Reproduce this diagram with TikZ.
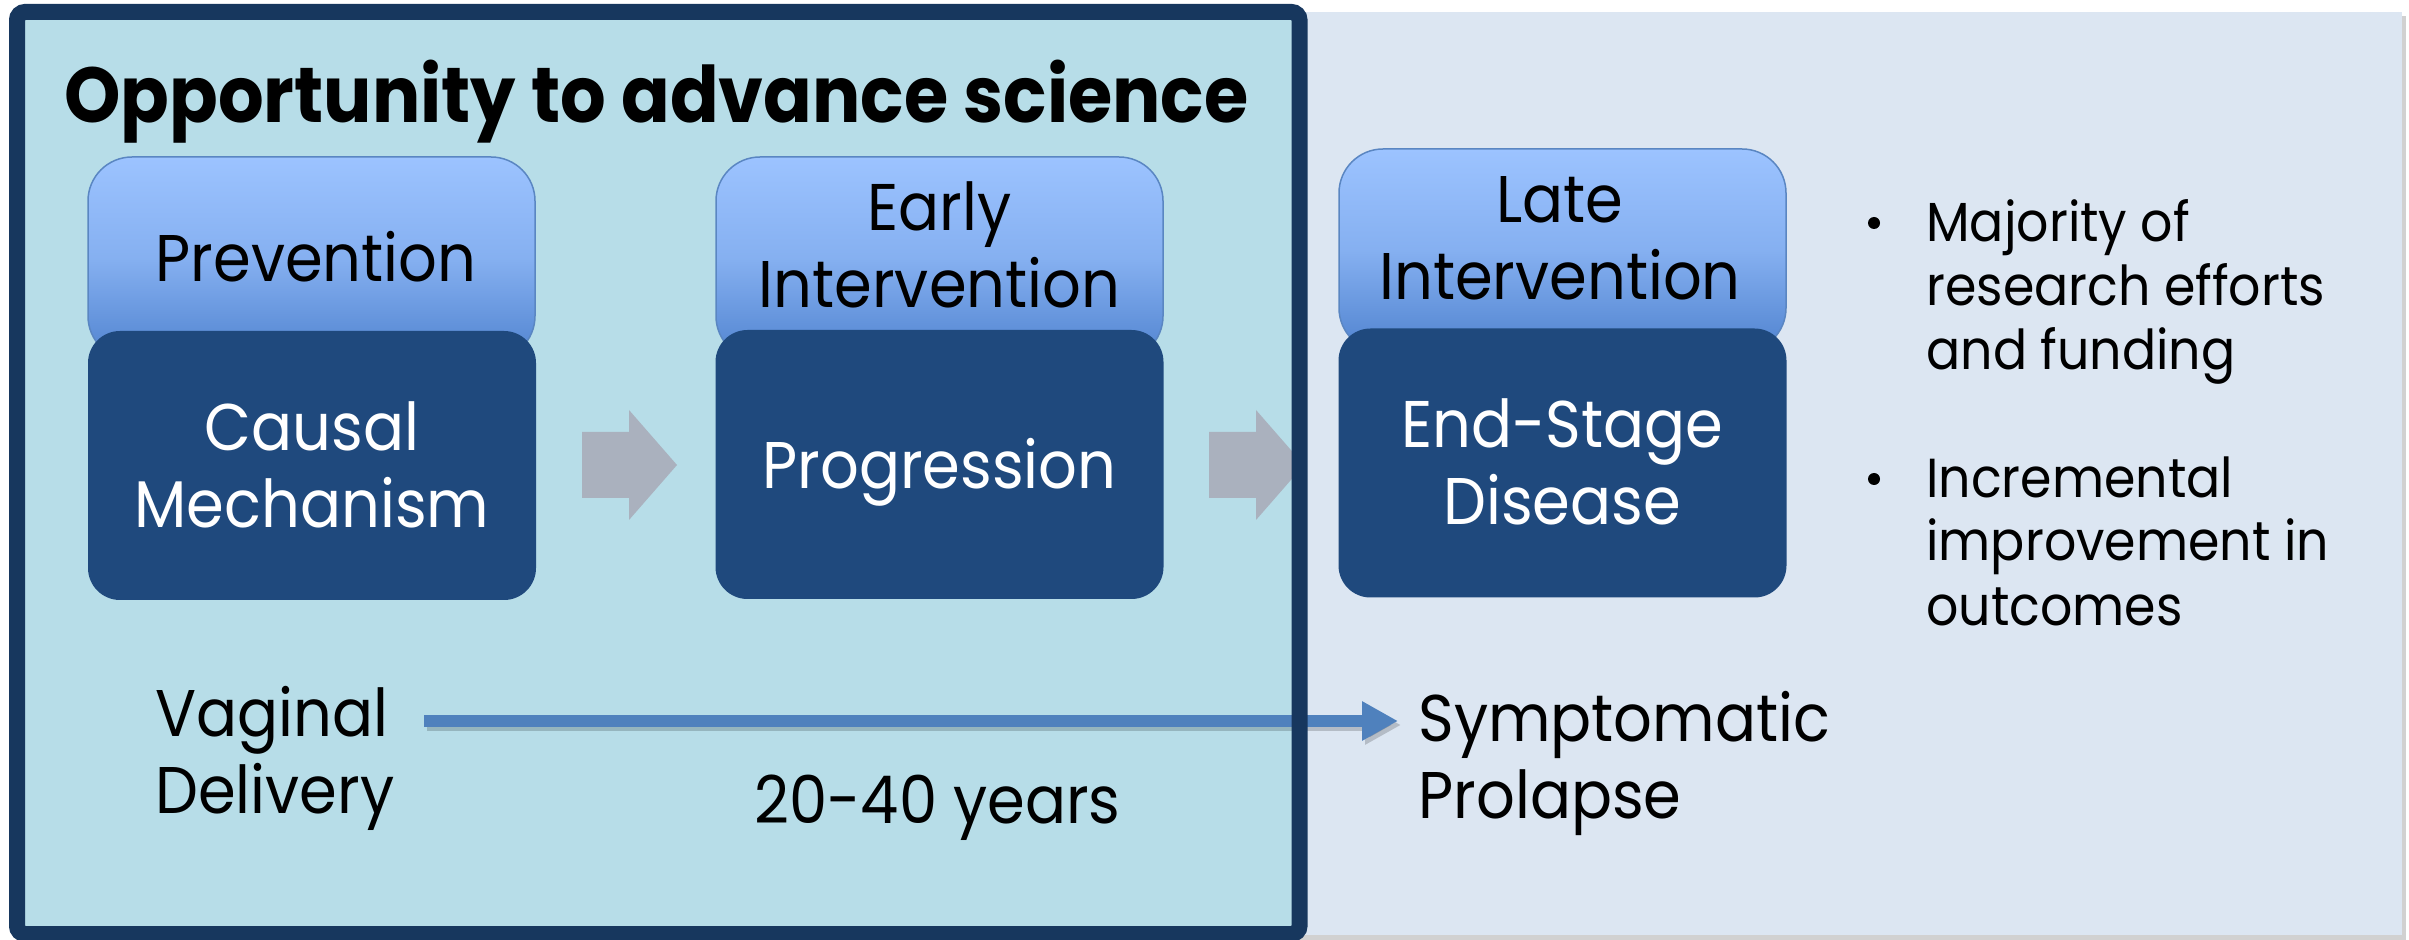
\documentclass[tikz,border=0pt]{standalone}
\usepackage{fontspec}
\setmainfont{Poppins}[FakeStretch=0.92]
\usetikzlibrary{arrows.meta}
\definecolor{frameC}{HTML}{17375E}
\definecolor{tealC}{HTML}{B7DDE8}
\definecolor{paleC}{HTML}{DCE6F2}
\definecolor{darkC}{HTML}{1F497D}
\definecolor{topA}{HTML}{9CC3FF}
\definecolor{topB}{HTML}{5083CF}
\definecolor{topE}{HTML}{5A86C2}
\definecolor{grayA}{HTML}{AAB1BE}
\definecolor{blueA}{HTML}{4F81BD}
\tikzset{
  topbox/.style={rounded corners=22pt, draw=topE, line width=0.75pt, top color=topA, bottom color=topB, middle color=topA!70!topB, minimum width=223.5pt, minimum height=101.5pt, inner sep=0pt},
  darkbox/.style={rounded corners=16pt, fill=darkC, minimum width=224pt, minimum height=134.5pt, inner sep=0pt},
  bigtxt/.style={font=\fontsize{33}{38.5}\selectfont, align=center, anchor=base, inner sep=0pt},
  whitetxt/.style={bigtxt, text=white},
  lefttxt/.style={font=\fontsize{33}{38.5}\selectfont, align=left, anchor=base west, inner sep=0pt},
  bultxt/.style={font=\fontsize{27.5}{32}\selectfont, align=left, anchor=base west, inner sep=0pt},
  bulletdot/.style={circle, fill=black, minimum size=6pt, inner sep=0pt},
  grayarrow/.style={fill=grayA},
  timeline/.style={draw=blueA, line width=6pt, -{Triangle[length=18pt,width=18.5pt]}}
}
\begin{document}
\begin{tikzpicture}[x=0.5pt,y=-0.5pt]
\useasboundingbox (0,0) rectangle (2409,940);
% background panels
\fill[black!30, opacity=0.6] (16,16) rectangle (2406,940);
\fill[paleC] (12,12) rectangle (2402,935);
\fill[tealC] (17,12) rectangle (1299.5,934);
% title
\node[font=\fontsize{39}{46}\selectfont\bfseries, anchor=base west, inner sep=0pt] (title) at (64,123) {Opportunity to advance science};
% boxes
\node[topbox] (t1) at (311.5,258.5) {};
\node[darkbox] (d1) at (312,465.5) {};
\node[topbox] (t2) at (939.5,258.5) {};
\node[darkbox] (d2) at (939.5,464.5) {};
\node[topbox] (t3) at (1562.5,250.5) {};
\node[darkbox] (d3) at (1562.5,463) {};
% box texts (base = last line baseline)
\node[bigtxt] (l1) at (316,282) {Prevention};
\node[bigtxt] (l2) at (939.5,308) {Early\\Intervention};
\node[bigtxt] (l3) at (1560,300) {Late\\Intervention};
\node[whitetxt] (s1) at (312,528) {Causal\\Mechanism};
\node[whitetxt] (s2) at (939.5,489) {Progression};
\node[whitetxt] (s3) at (1562,525) {End-Stage\\Disease};
% gray arrows
\fill[grayarrow] (582,432) -- (629,432) -- (629,410) -- (677,465) -- (629,520) -- (629,498) -- (582,498) -- cycle;
\fill[grayarrow] (1209,432) -- (1256,432) -- (1256,410) -- (1304,465) -- (1256,520) -- (1256,498) -- (1209,498) -- cycle;
% bottom texts
\node[lefttxt] (vd) at (155,813) {Vaginal\\Delivery};
\node[lefttxt] (yrs) at (754,823) {20-40 years};
\node[lefttxt] (sp) at (1418,818) {Symptomatic\\Prolapse};
% timeline arrow
\coordinate (arrS) at (424,721);
\coordinate (arrE) at (1398,721);
\draw[timeline, draw=black, opacity=0.18, transform canvas={xshift=1.5pt,yshift=-2pt}] (arrS) -- (arrE);
\draw[timeline] (arrS) -- (arrE);
% frame
\draw[frameC, line width=8pt, rounded corners=4pt] (17,12) rectangle (1299.5,934);
% bullets
\node[bulletdot] (b1) at (1874,223) {};
\node[bultxt] (m1) at (1926,370) {Majority of\\research efforts\\and funding};
\node[bulletdot] (b2) at (1874,479) {};
\node[bultxt] (m2) at (1926,625) {Incremental\\improvement in\\outcomes};
\end{tikzpicture}
\end{document}
